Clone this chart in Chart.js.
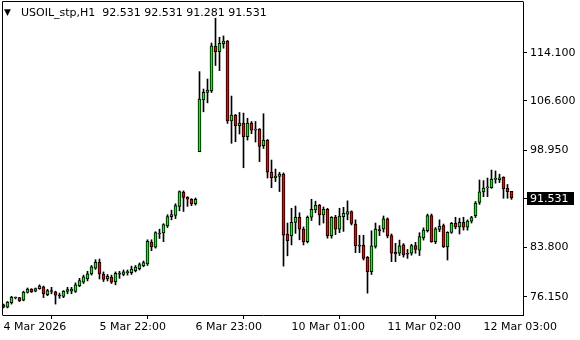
<!DOCTYPE html>
<html>
<head>
<meta charset="utf-8">
<script src="https://cdn.jsdelivr.net/npm/chart.js@4.4.1/dist/chart.umd.min.js"></script>
<style>
  html, body { margin: 0; padding: 0; background: #ffffff; }
  #wrap { width: 580px; height: 340px; }
</style>
</head>
<body>
<div id="wrap"><canvas id="c" width="580" height="340"></canvas></div>
<script>
// ---- data (hourly candles) ----
const symbolName = 'USOIL_stp';
const timeframe = 'H1';
const opens = [
  74.9,74.5,75.2,75.95,76.0,75.6,76.8,77.35,77.0,77.4,
  77.7,76.45,77.1,76.9,76.4,76.2,76.95,77.0,76.95,77.85,
  78.4,78.9,79.7,80.6,81.5,79.65,78.9,79.2,78.5,79.8,
  79.6,79.9,79.9,80.2,80.5,80.95,81.25,84.65,83.85,85.9,
  86.05,87.15,88.6,88.8,90.2,92.4,91.6,91.3,90.6,98.7,
  106.75,107.9,108.15,115.1,114.25,115.5,115.9,103.5,104.4,102.75,
  103.15,101.05,103.15,102.05,102.2,99.65,100.5,95.5,94.65,94.85,
  95.2,85.9,85.6,87.7,88.5,86.65,84.7,88.5,89.65,90.35,
  88.85,89.75,85.65,88.5,86.65,88.6,89.0,89.4,87.45,84.15,
  84.15,82.25,80.05,83.95,86.6,86.7,88.25,85.65,83.05,82.9,
  84.2,82.9,82.9,84.1,83.4,85.3,86.4,88.75,84.7,86.6,
  87.2,83.9,86.15,87.55,87.0,87.7,86.95,87.9,88.75,90.8,
  92.45,93.05,93.1,94.4,94.35,94.7,93.0,92.531
];
const highs = [
  75.0,75.4,76.2,76.1,76.05,77.0,77.5,77.4,77.5,78.0,
  77.8,77.3,77.6,77.0,76.7,77.1,77.6,77.6,78.3,79.0,
  79.5,80.1,81.0,81.9,82.0,80.0,79.6,79.5,80.0,80.1,
  80.3,80.3,80.9,81.0,81.4,81.7,85.0,85.0,86.25,86.65,
  87.5,88.9,89.6,90.6,92.6,92.6,91.7,91.4,91.5,111.15,
  108.45,110.0,115.6,119.45,116.5,116.7,116.0,107.35,104.5,104.8,
  104.7,103.9,103.4,103.4,102.3,104.6,100.6,97.4,96.0,95.5,
  95.4,87.6,89.9,90.25,89.2,87.0,88.7,91.3,91.0,90.5,
  90.1,89.9,88.6,88.8,89.9,90.05,91.05,89.5,88.1,85.7,
  85.7,82.4,86.4,87.6,87.2,88.7,88.4,85.9,84.45,84.95,
  84.4,83.5,84.3,84.6,86.1,86.85,89.0,89.0,86.9,88.1,
  87.45,86.25,87.7,88.5,88.35,88.5,88.1,88.65,90.95,94.3,
  94.2,94.6,95.85,95.7,95.2,94.8,93.6,92.531
];
const lows = [
  74.4,74.4,75.0,75.8,75.4,75.5,76.7,76.8,76.9,77.3,
  76.0,76.3,76.6,75.0,75.9,76.0,76.6,76.6,76.8,77.7,
  78.2,78.6,79.5,80.4,78.9,78.5,78.6,78.2,78.0,79.0,
  79.4,79.5,79.6,80.0,80.3,80.8,81.0,83.3,83.7,85.2,
  84.7,86.9,88.1,88.3,89.5,89.4,90.2,90.3,90.4,98.7,
  104.9,106.3,107.9,112.1,111.3,114.8,103.1,100.0,100.25,101.45,
  96.2,100.5,101.5,100.2,97.15,99.2,94.6,93.1,94.05,92.5,
  80.9,82.5,84.2,86.0,85.0,84.2,84.5,88.0,89.2,87.3,
  87.6,85.25,85.25,85.8,86.1,86.3,88.1,87.3,83.0,83.0,
  81.85,76.7,79.6,83.7,85.65,86.2,85.3,81.6,81.6,82.55,
  82.3,82.1,82.6,82.9,82.55,84.95,86.2,84.6,84.4,86.25,
  83.8,81.85,86.0,86.7,85.9,86.5,86.5,87.6,88.45,90.5,
  91.7,91.7,93.0,93.8,93.9,91.45,91.45,91.281
];
const closes = [
  74.5,75.3,76.1,76.05,75.5,76.85,77.35,76.9,77.4,77.8,
  76.6,77.1,76.95,76.4,76.25,77.0,77.25,77.35,78.0,78.65,
  79.25,79.7,80.8,81.5,79.7,78.85,79.3,78.4,79.8,79.65,
  80.0,80.0,80.45,80.75,81.15,81.45,84.75,83.9,86.1,86.05,
  87.35,88.6,88.9,90.3,92.5,91.6,91.3,90.6,91.3,106.9,
  107.95,108.3,115.15,114.25,115.55,115.9,103.5,104.4,102.75,103.15,
  101.05,103.15,102.05,102.15,99.5,100.5,95.5,94.65,94.9,95.2,
  85.7,84.85,87.7,88.5,86.65,84.7,88.5,89.75,90.35,88.85,
  89.75,85.65,88.5,86.65,88.7,89.1,89.4,87.55,84.05,84.0,
  82.1,80.05,84.05,86.65,86.4,88.25,85.6,82.9,82.8,84.05,
  82.65,82.75,84.1,83.5,85.5,86.5,88.75,84.7,86.7,87.1,
  83.9,86.15,87.55,87.0,87.7,86.95,87.9,88.45,90.7,92.45,
  93.05,93.25,94.4,94.55,94.65,92.95,92.5,91.531
];
const xTickBars = [0, 24, 48, 72, 96, 120];
const xTickLabels = ['4 Mar 2026', '5 Mar 22:00', '6 Mar 23:00', '10 Mar 01:00', '11 Mar 02:00', '12 Mar 03:00'];
const yTickValues = [76.15, 83.8, 98.95, 106.6, 114.1];

// ---- styling ----
const BULL = '#00ff00';
const BEAR = '#ff0000';
const FONT = '"DejaVu Sans", sans-serif';

const bodies = opens.map((o, i) => ({ x: i, y: [o, closes[i]] }));
const wicks = opens.map((o, i) => ({ x: i, y: [lows[i], highs[i]] }));
const bodyColors = opens.map((o, i) => closes[i] >= o ? BULL : BEAR);

const n = opens.length;
const last = n - 1;

const overlay = {
  id: 'overlay',
  afterDraw(chart) {
    const { ctx, chartArea } = chart;
    const ys = chart.scales.y;
    ctx.save();
    // frame left/top
    ctx.strokeStyle = '#000';
    ctx.lineWidth = 1;
    ctx.beginPath();
    ctx.moveTo(chartArea.left - 0.5, chartArea.bottom + 0.5);
    ctx.lineTo(chartArea.left - 0.5, chartArea.top - 0.5);
    ctx.lineTo(chartArea.right + 0.5, chartArea.top - 0.5);
    ctx.stroke();
    // title
    ctx.fillStyle = '#000';
    ctx.textBaseline = 'middle';
    ctx.font = '9px "DejaVu Sans", sans-serif';
    ctx.fillText('\u25BC', 4, 13);
    ctx.font = '11px ' + FONT;
    const fmt = v => v.toFixed(3);
    const title = symbolName + ',' + timeframe + '  ' +
      fmt(opens[last]) + ' ' + fmt(highs[last]) + ' ' + fmt(lows[last]) + ' ' + fmt(closes[last]);
    ctx.fillText(title, 21, 13);
    // current price box
    const py = Math.round(ys.getPixelForValue(closes[last]));
    ctx.fillStyle = '#000';
    ctx.fillRect(chartArea.right + 1, py, 4, 1);
    ctx.fillRect(chartArea.right + 4, py - 6, 47, 13);
    ctx.fillStyle = '#fff';
    ctx.font = '11px ' + FONT;
    ctx.textBaseline = 'middle';
    ctx.fillText(fmt(closes[last]), chartArea.right + 7, py + 1);
    ctx.restore();
  }
};

new Chart(document.getElementById('c'), {
  type: 'bar',
  data: {
    datasets: [
      {
        label: 'body', data: bodies, backgroundColor: bodyColors,
        borderColor: '#000', borderWidth: 1, borderSkipped: false,
        barThickness: 3, minBarLength: 1, grouped: false, order: 1, clip: false
      },
      {
        label: 'wick', data: wicks, backgroundColor: '#000',
        borderWidth: 0, barThickness: 1, grouped: false, order: 2, clip: false
      }
    ]
  },
  options: {
    responsive: false,
    animation: false,
    events: [],
    layout: { autoPadding: false, padding: { left: 3, top: 2, right: 0, bottom: 0 } },
    plugins: { legend: { display: false }, tooltip: { enabled: false } },
    scales: {
      x: {
        type: 'linear', min: -0.125, max: 129.875, offset: false,
        grid: { display: true, drawOnChartArea: false, drawTicks: true, tickLength: 4, color: '#000' },
        border: { display: true, color: '#000', width: 1 },
        ticks: {
          autoSkip: false, maxRotation: 0, minRotation: 0, align: 'start', padding: 2,
          color: '#000', font: { family: FONT, size: 11 },
          callback: (v) => { const k = xTickBars.indexOf(v); return k >= 0 ? xTickLabels[k] : ''; }
        },
        afterBuildTicks: (s) => { s.ticks = xTickBars.map(v => ({ value: v })); },
        afterFit: (s) => { s.height = 25; s.paddingLeft = 0; s.paddingRight = 0; }
      },
      y: {
        position: 'right', min: 73.30, max: 121.98,
        grid: { display: true, drawOnChartArea: false, drawTicks: true, tickLength: 4, color: '#000' },
        border: { display: true, color: '#000', width: 1 },
        ticks: {
          autoSkip: false, padding: 3, color: '#000', font: { family: FONT, size: 11 },
          callback: (v) => Number(v).toFixed(3)
        },
        afterBuildTicks: (s) => { s.ticks = yTickValues.map(v => ({ value: v })); },
        afterFit: (s) => { s.width = 57; s.paddingTop = 0; s.paddingBottom = 0; }
      }
    }
  },
  plugins: [overlay]
});
</script>
</body>
</html>
